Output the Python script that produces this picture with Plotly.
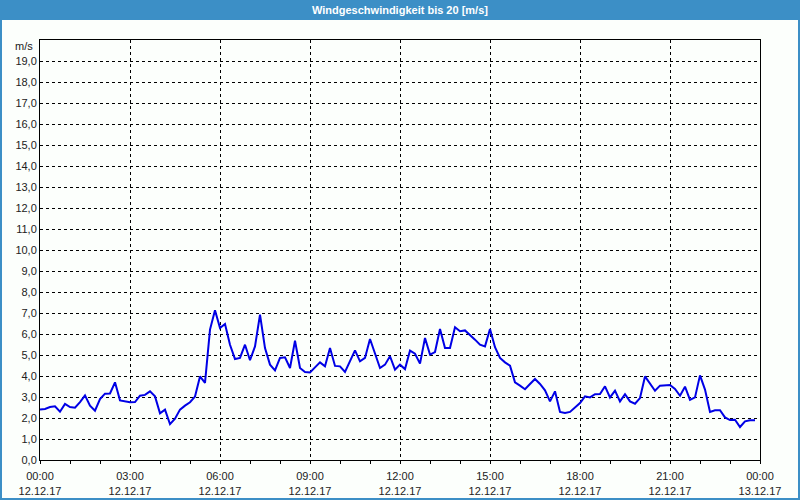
import plotly.graph_objects as go
import pandas as pd

start = "2017-12-12 00:00"
speeds = [
    2.40, 2.43, 2.52, 2.56, 2.30, 2.67, 2.52, 2.49, 2.76, 3.08, 2.59, 2.35,
    2.90, 3.16, 3.17, 3.70, 2.84, 2.79, 2.75, 2.76, 3.06, 3.10, 3.27, 3.03,
    2.22, 2.40, 1.71, 1.97, 2.40, 2.59, 2.75, 3.02, 3.98, 3.67, 6.21, 7.13,
    6.29, 6.48, 5.49, 4.81, 4.86, 5.49, 4.75, 5.41, 6.92, 5.33, 4.54, 4.27,
    4.86, 4.89, 4.38, 5.68, 4.38, 4.19, 4.17, 4.41, 4.65, 4.46, 5.33, 4.48,
    4.46, 4.19, 4.70, 5.22, 4.70, 4.86, 5.76, 5.02, 4.38, 4.54, 4.94, 4.30,
    4.54, 4.33, 5.21, 5.06, 4.59, 5.81, 5.02, 5.14, 6.24, 5.33, 5.33, 6.32,
    6.13, 6.17, 5.97, 5.73, 5.49, 5.41, 6.24, 5.37, 4.86, 4.65, 4.49, 3.70,
    3.54, 3.37, 3.62, 3.86, 3.62, 3.32, 2.79, 3.27, 2.29, 2.24, 2.29, 2.52,
    2.71, 3.03, 2.98, 3.13, 3.14, 3.51, 2.98, 3.30, 2.79, 3.13, 2.79, 2.68,
    2.95, 3.98, 3.62, 3.30, 3.54, 3.57, 3.57, 3.38, 3.06, 3.49, 2.86, 2.98,
    4.03, 3.35, 2.29, 2.37, 2.37, 2.03, 1.90, 1.92, 1.57, 1.84, 1.89, 1.89,
]
times = pd.date_range(start, periods=len(speeds), freq="10min")
y_ticks = list(range(0, 20))
title_text = "Windgeschwindigkeit bis 20 [m/s]"
unit_text = "m/s"

W, H = 800, 500
ML, MR, MT, MB = 40, 40, 40, 40
PW, PH = W - ML - MR, H - MT - MB
border = "#3c8fc6"
font = "Liberation Sans"

fig = go.Figure()
fig.add_trace(go.Scatter(x=times, y=speeds, mode="lines",
                         line=dict(color="#0000e6", width=2), hoverinfo="skip"))

fx0, fx1 = -ML / PW, 1 + MR / PW
fy0, fy1 = -MB / PH, 1 + MT / PH
fig.add_shape(type="rect", xref="paper", yref="paper",
              x0=fx0, x1=fx1, y0=1 + 20 / PH, y1=fy1,
              fillcolor=border, line=dict(width=0), layer="below")
fig.add_shape(type="rect", xref="paper", yref="paper",
              x0=fx0 + 1 / PW, x1=fx1 - 1 / PW, y0=fy0 + 1 / PH, y1=fy1,
              fillcolor="rgba(0,0,0,0)", line=dict(color=border, width=2))

fig.add_annotation(text="<b>" + title_text + "</b>", xref="paper", yref="paper",
                   x=0.5, xanchor="center", y=1 + 30 / PH, yanchor="middle",
                   showarrow=False,
                   font=dict(family=font, size=11, color="white"))
fig.add_annotation(text=unit_text, xref="paper", yref="paper",
                   x=0, xshift=-5, xanchor="right", y=1 - 6 / PH, yanchor="middle",
                   showarrow=False, font=dict(family=font, size=11, color="#222"))

fig.update_layout(
    width=W, height=H, margin=dict(l=ML, r=MR, t=MT, b=MB, autoexpand=False),
    paper_bgcolor="#fcfffc", plot_bgcolor="#fcfffc",
    showlegend=False, separators=",.",
    font=dict(family=font, size=11, color="#222"),
)
fig.update_xaxes(
    type="date", range=["2017-12-12 00:00", "2017-12-13 00:00"],
    dtick=3 * 3600000, tick0="2017-12-12 00:00",
    tickformat="%H:%M<br>%d.%m.%y", automargin=False, ticklabelstandoff=3,
    showgrid=True, gridcolor="black", griddash="3px,3px", gridwidth=1,
    ticks="outside", ticklen=3, tickcolor="black",
    minor=dict(dtick=3600000, ticks="outside", ticklen=3, tickcolor="black", showgrid=False),
    showline=True, linecolor="black", linewidth=1, mirror=True,
    zeroline=False, fixedrange=True,
)
fig.update_yaxes(
    range=[0, 20], tickvals=y_ticks, tickformat=".1f", automargin=False,
    showgrid=True, gridcolor="black", griddash="3px,3px", gridwidth=1,
    ticks="", showline=True, linecolor="black", linewidth=1, mirror=True,
    zeroline=False, fixedrange=True,
)
fig.write_html("out.html")
